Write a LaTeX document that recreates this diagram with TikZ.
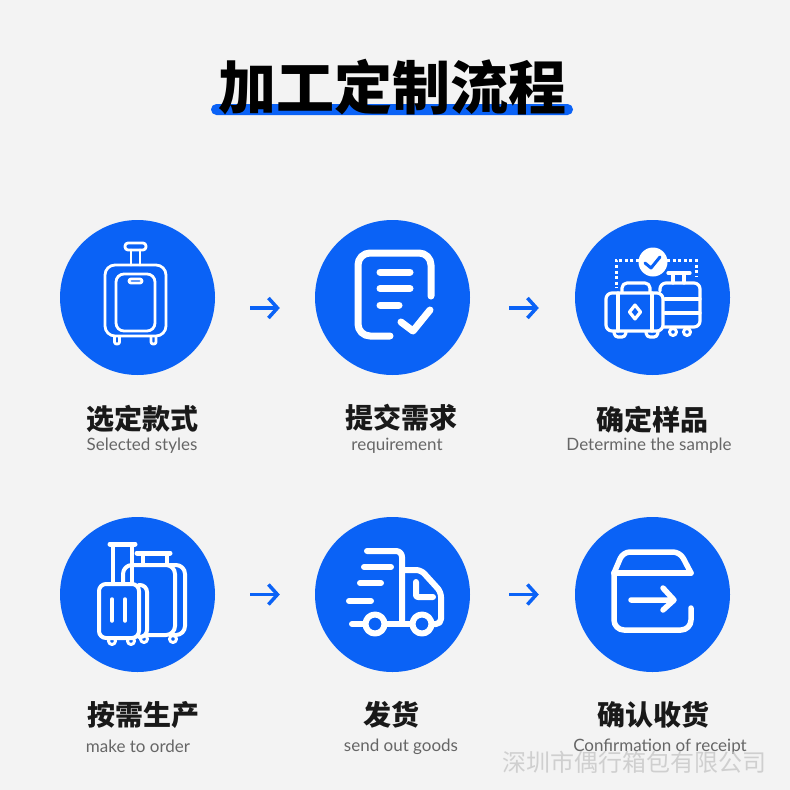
\documentclass[tikz,border=0pt]{standalone}
\usepackage{fontspec}
\setmainfont{Lato}
\newfontfamily\cjk{Noto Sans CJK SC}
\usetikzlibrary{arrows.meta}
\definecolor{flowblue}{HTML}{0A62F6}
\definecolor{pagegrey}{HTML}{F3F3F3}
\tikzset{
	stepcircle/.style={circle, fill=flowblue, minimum size=155pt, inner sep=0pt},
	flowarrow/.style={draw=flowblue, line width=3.5pt, -{Straight Barb[length=9pt, width=20pt, line width=3.5pt]}},
	iconline/.style={draw=white, line width=#1, line cap=round, line join=round},
	iconline/.default=2.8pt,
	cntext/.style={font=\cjk\bfseries\fontsize{28}{30}\selectfont, text=black!90, inner sep=0pt},
	entext/.style={font=\fontsize{17}{19}\selectfont, text=black!60, inner sep=0pt}
}

\begin{document}
\begin{tikzpicture}[x=1pt, y=-1pt]
	\fill[pagegrey] (0,0) rectangle (790,790);
	
	\fill[flowblue, rounded corners=5.4pt] (211,104) rectangle (573,115);
	\node[font=\cjk\bfseries\fontsize{58}{60}\selectfont, inner sep=0pt] (title) at (392,87) {加工定制流程};
	
	\foreach \name/\x/\y in {select/137.5/297.5, demand/392.5/297.5, sample/652.5/297.5, produce/137.5/594.5, ship/392.5/594.5, receive/652.5/594.5} {
			\node[stepcircle] (\name) at (\x,\y) {};
	}
	
	\draw[flowarrow, shorten <=35pt, shorten >=35pt] ([yshift=-10.5pt]select.east) -- ([yshift=-10.5pt]demand.west);
	\draw[flowarrow, shorten <=39pt, shorten >=36pt] ([yshift=-10.5pt]demand.east) -- ([yshift=-10.5pt]sample.west);
	\draw[flowarrow, shorten <=35pt, shorten >=35pt] (produce.east) -- (ship.west);
	\draw[flowarrow, shorten <=39pt, shorten >=36pt] (ship.east) -- (receive.west);
	
	\foreach \name/\x/\y/\txt in {selectcn/142/419/选定款式, demandcn/401/418/提交需求, samplecn/652/420/确定样品, producecn/143/715/按需生产, shipcn/391/715/发货, receivecn/653/715/确认收货} {
			\node[cntext] (\name) at (\x,\y) {\txt};
	}
	\foreach \name/\x/\y/\txt in {selecten/142/446/Selected styles, demanden/397/446/requirement, sampleen/649/446/Determine the sample, produceen/138/746/make to order, shipen/401/747/send out goods, receiveen/660/747/Confirmation of receipt} {
			\node[entext] (\name) at (\x,\y) {\txt};
	}
	
	\draw[iconline, rounded corners=3pt] (125,243) rectangle (146,250);
	\draw[iconline] (131,250) -- (131,265) (140,250) -- (140,265);
	\draw[iconline, rounded corners=10pt] (105,265) rectangle (166,336);
	\draw[iconline, rounded corners=8pt] (116,274) rectangle (155,331);
	\draw[iconline, rounded corners=2pt] (129,279) rectangle (142,283);
	\draw[iconline, rounded corners=2pt] (114.5,337) -- (114.5,344) -- (119.5,344) -- (119.5,337);
	\draw[iconline, rounded corners=2pt] (151,337) -- (151,344) -- (156,344) -- (156,337);
	
	\draw[iconline=7pt, rounded corners=12pt] (431,296) -- (431,253) -- (358,253) -- (358,336) -- (390,336);
	\draw[iconline=7pt] (380,272) -- (410,272) (380,288.5) -- (410,288.5) (380,305) -- (399,305);
	\draw[iconline=7pt] (401,322) -- (413,331) -- (430,310);
	
	\fill[white] (653,262) circle (14.5);
	\draw[flowblue, line width=3pt, line cap=round, line join=round] (645,263) -- (651,268) -- (660,257);
	\draw[white, line width=3pt, dash pattern=on 3pt off 2.6pt] (639,260) -- (616,260) -- (616,288);
	\draw[white, line width=3pt, dash pattern=on 3pt off 2.6pt] (667,260) -- (696,260) -- (696,277);
	\draw[iconline=3.2pt, rounded corners=6pt] (606,293) rectangle (663,331);
	\draw[iconline=3.2pt] (618,293) -- (618,331) (652,293) -- (652,331);
	\draw[iconline=3.2pt, rounded corners=5pt] (622,292) -- (622,283) -- (650,283) -- (650,292);
	\draw[iconline=3.2pt] (635,305) -- (640.5,312) -- (635,319) -- (629.5,312) -- cycle;
	\draw[iconline=3.2pt, rounded corners=3pt] (614,332) -- (615,337) -- (625,337) -- (626,332);
	\draw[iconline=3.2pt, rounded corners=3pt] (646,332) -- (647,337) -- (657,337) -- (658,332);
	\draw[iconline=3.2pt, rounded corners=6pt] (660,291) -- (660,283) -- (700,283) -- (700,327) -- (664,327);
	\draw[iconline=3.2pt] (665,299) -- (700,299) (665,313) -- (700,313);
	\draw[iconline=3.2pt] (668,273) -- (690,273) (673,273) -- (673,283) (684,273) -- (684,283);
	\draw[iconline=3pt] (673,332) circle (3.5) (687,332) circle (3.5);
	
	\draw[iconline=4pt, rounded corners=7pt] (99,584) rectangle (139,638);
	\draw[iconline=4pt, rounded corners=7pt] (139,585) -- (147,585) -- (147,637) -- (139,637);
	\draw[iconline=5pt] (110,544) -- (135,544);
	\draw[iconline=4pt] (113,544) -- (113,584) (132,544) -- (132,584);
	\draw[iconline=3.5pt] (112,599) -- (112,621) (125,599) -- (125,621);
	\draw[iconline=4pt, rounded corners=9pt] (123,583) -- (123,565) -- (175,565) -- (175,635) -- (147,635);
	\draw[iconline=4pt, rounded corners=9pt] (170,565) -- (185,565) -- (185,635) -- (173,635);
	\draw[iconline=5pt] (137,553) -- (170,553);
	\draw[iconline=4pt] (143,553) -- (143,565) (167,553) -- (167,565);
	\foreach \wx/\wy in {112/641, 131/641, 144/639, 173/639} {
			\draw[iconline=3pt] (\wx,\wy) circle (3.5);
	}
	
	\draw[iconline=6pt, rounded corners=6pt] (367,551) -- (402,551) -- (402,622);
	\draw[iconline=6pt] (364,567) -- (391,567) (360,583) -- (381,583) (349,601) -- (371,601) (352,624) -- (363,624) (385,624) -- (412,624);
	\draw[iconline=6pt] (375,624) circle (9.5) (422,624) circle (9.5);
	\draw[iconline=6pt, rounded corners=5pt] (402,570) -- (421,570) -- (441,592) -- (441,624) -- (432,624);
	\draw[iconline=6pt, rounded corners=2pt] (416,582) -- (416,597) -- (433,597);
	
	\draw[iconline=5.5pt, rounded corners=7pt] (614,573) -- (623,552) -- (680,552) -- (691,573);
	\draw[iconline=5.5pt] (614,573) -- (691,573);
	\draw[iconline=5.5pt, rounded corners=10pt] (614,573) -- (614,630) -- (691,630) -- (691,608);
	\draw[iconline=5.5pt] (631,600) -- (673,600) (663,588) -- (674,600) -- (663,610);
	
	\node[font=\cjk\fontsize{24}{26}\selectfont, text=black!22, text opacity=0.8, inner sep=0pt] (mark) at (634,762) {深圳市偶行箱包有限公司};
\end{tikzpicture}
\end{document}
